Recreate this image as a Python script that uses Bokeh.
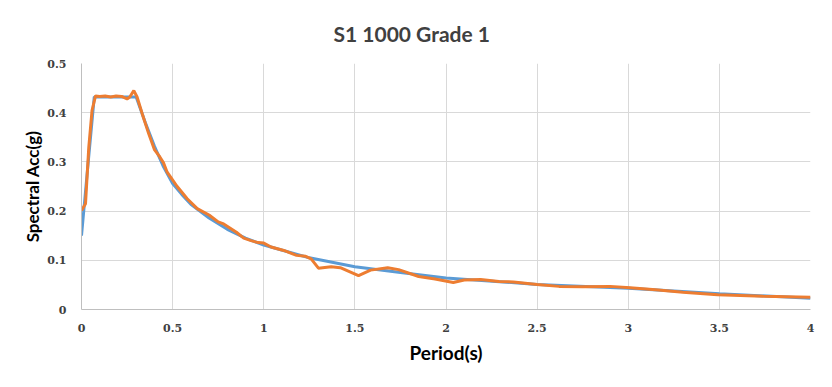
from bokeh.plotting import figure
from bokeh.models import FixedTicker, Title
from bokeh.embed import file_html
from bokeh.resources import INLINE

# Design spectrum (blue)
design_T = [0.0, 0.03, 0.07, 0.3, 0.35, 0.4, 0.45, 0.5, 0.55, 0.6, 0.7, 0.8, 0.9, 1.0,
            1.25, 1.5, 1.75, 2.0, 2.5, 3.0, 3.5, 4.0]
design_A = [0.150, 0.272, 0.432, 0.432, 0.380, 0.332, 0.290, 0.256, 0.234, 0.214, 0.186,
            0.163, 0.145, 0.131, 0.105, 0.087, 0.075, 0.064, 0.051, 0.043, 0.032, 0.023]

# Scaled record spectrum (orange)
record_T = [0.0, 0.022, 0.04, 0.058, 0.077, 0.10, 0.13, 0.16, 0.19, 0.22, 0.25, 0.265,
            0.287, 0.305, 0.333, 0.369, 0.40, 0.43, 0.45, 0.47, 0.525, 0.58, 0.635,
            0.70, 0.75, 0.78, 0.85, 0.89, 0.93, 0.97, 1.0, 1.04, 1.11, 1.18, 1.23,
            1.26, 1.30, 1.37, 1.42, 1.52, 1.586, 1.68, 1.74, 1.85, 1.94, 2.04, 2.10,
            2.19, 2.29, 2.37, 2.50, 2.62, 2.75, 2.90, 3.01, 3.15, 3.30, 3.49, 3.74, 4.0]
record_A = [0.201, 0.215, 0.330, 0.405, 0.434, 0.433, 0.434, 0.432, 0.434, 0.433, 0.428,
            0.432, 0.445, 0.432, 0.398, 0.357, 0.325, 0.310, 0.298, 0.279, 0.250, 0.225,
            0.205, 0.192, 0.178, 0.174, 0.157, 0.145, 0.140, 0.136, 0.135, 0.127, 0.120,
            0.110, 0.108, 0.103, 0.084, 0.087, 0.085, 0.069, 0.080, 0.085, 0.081, 0.067,
            0.062, 0.055, 0.060, 0.061, 0.057, 0.056, 0.051, 0.047, 0.046, 0.047, 0.044,
            0.040, 0.035, 0.030, 0.027, 0.025]

x_ticks = [0, 0.5, 1, 1.5, 2, 2.5, 3, 3.5, 4]
x_tick_labels = ["0", "0.5", "1", "1.5", "2", "2.5", "3", "3.5", "4"]
y_ticks = [0, 0.1, 0.2, 0.3, 0.4, 0.5]
y_tick_labels = ["0", "0.1", "0.2", "0.3", "0.4", "0.5"]

title_text = "S1 1000 Grade 1"
x_label = "Period(s)"
y_label = "Spectral Acc(g)"

p = figure(width=816, height=371, output_backend="svg", toolbar_location=None,
           x_range=(0, 4), y_range=(0, 0.5),
           min_border_left=81, min_border_right=6, min_border_top=63, min_border_bottom=62)
p.title = Title(text=title_text, align="left", text_font="Lato", text_font_size="21px",
                text_font_style="bold", text_color="#404040", offset=252, standoff=36)
p.outline_line_color = None
p.background_fill_color = "white"
p.border_fill_color = "white"

p.xaxis.ticker = FixedTicker(ticks=x_ticks)
p.yaxis.ticker = FixedTicker(ticks=y_ticks)
p.xaxis.major_label_overrides = {t: l for t, l in zip(x_ticks, x_tick_labels)}
p.yaxis.major_label_overrides = {t: l for t, l in zip(y_ticks, y_tick_labels)}

for ax in (p.xaxis, p.yaxis):
    ax.axis_line_color = "#bfbfbf"
    ax.axis_line_width = 1
    ax.major_tick_line_color = None
    ax.minor_tick_line_color = None
    ax.major_label_text_font = "DejaVu Serif"
    ax.major_label_text_font_style = "bold"
    ax.major_label_text_font_size = "11px"
    ax.major_label_text_color = "#404040"
    ax.axis_label_text_font = "Lato"
    ax.axis_label_text_font_style = "bold"
    ax.axis_label_text_color = "black"

p.xaxis.axis_label = x_label
p.yaxis.axis_label = y_label
p.xaxis.axis_label_text_font_size = "19px"
p.yaxis.axis_label_text_font_size = "17px"
p.xaxis.major_label_standoff = 8
p.yaxis.major_label_standoff = 9
p.xaxis.axis_label_standoff = 6
p.yaxis.axis_label_standoff = 1

p.xgrid.ticker = FixedTicker(ticks=x_ticks)
p.ygrid.ticker = FixedTicker(ticks=y_ticks)
p.xgrid.grid_line_color = "#d9d9d9"
p.ygrid.grid_line_color = "#d9d9d9"

p.line(design_T, design_A, line_color="#5b9bd5", line_width=3)
p.line(record_T, record_A, line_color="#ed7d31", line_width=3)

open("out.html", "w").write(file_html(p, INLINE))
